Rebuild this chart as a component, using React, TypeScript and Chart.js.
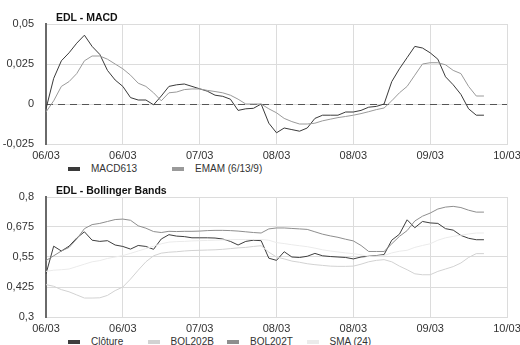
import React, { useEffect, useRef } from 'react';
import { Chart, registerables } from 'chart.js';

Chart.register(...registerables);

// ---------- data ----------
const xTickLabels = ['06/03', '06/03', '07/03', '08/03', '08/03', '09/03', '10/03'];
const STEPS_PER_TICK = 10;

const macdTicks = [-0.025, 0, 0.025, 0.05];
const bbTicks = [0.3, 0.425, 0.55, 0.675, 0.8];

const macd613 = [
  -0.003, 0.016, 0.027, 0.032, 0.038, 0.043, 0.036, 0.031, 0.021, 0.015,
  0.011, 0.004, 0.0025, 0.0025, -0.0005, 0.005, 0.011, 0.012, 0.0125, 0.011,
  0.0095, 0.008, 0.0055, 0.0048, 0.003, -0.004, -0.003, -0.0027, 0, -0.012,
  -0.018, -0.015, -0.016, -0.017, -0.015, -0.009, -0.007, -0.007, -0.007, -0.005,
  -0.005, -0.004, -0.002, -0.0015, 0, 0.014, 0.022, 0.029, 0.036, 0.035,
  0.032, 0.028, 0.017, 0.012, 0.006, -0.003, -0.007, -0.007,
];

const emam = [
  -0.005, 0.002, 0.011, 0.014, 0.019, 0.027, 0.03, 0.03, 0.028, 0.025,
  0.022, 0.018, 0.013, 0.011, 0.007, 0.002, 0.007, 0.0075, 0.009, 0.0094,
  0.0094, 0.0085, 0.0078, 0.007, 0.0055, 0.003, 0, 0, 0, -0.003,
  -0.0055, -0.009, -0.011, -0.0125, -0.0125, -0.012, -0.0105, -0.0095, -0.0085, -0.0078,
  -0.007, -0.006, -0.0048, -0.0035, -0.0025, 0.002, 0.007, 0.011, 0.018, 0.025,
  0.0258, 0.0258, 0.0245, 0.021, 0.019, 0.011, 0.005, 0.005,
];

const cloture = [
  0.48, 0.595, 0.575, 0.595, 0.629, 0.655, 0.62, 0.615, 0.618, 0.6,
  0.594, 0.583, 0.598, 0.594, 0.582, 0.625, 0.643, 0.637, 0.635, 0.63,
  0.63, 0.63, 0.629, 0.625, 0.615, 0.6, 0.615, 0.62, 0.618, 0.545,
  0.536, 0.572, 0.55, 0.548, 0.553, 0.565, 0.555, 0.552, 0.55, 0.548,
  0.542, 0.55, 0.553, 0.556, 0.56, 0.62, 0.645, 0.705, 0.672, 0.698,
  0.692, 0.69, 0.668, 0.662, 0.64, 0.628, 0.622, 0.622,
];

const bol202B = [
  0.435, 0.428, 0.414, 0.405, 0.392, 0.379, 0.379, 0.38, 0.39, 0.41,
  0.425, 0.458, 0.495, 0.53, 0.555, 0.566, 0.57, 0.572, 0.575, 0.577,
  0.578, 0.579, 0.58, 0.582, 0.585, 0.588, 0.59, 0.594, 0.597, 0.57,
  0.55, 0.542, 0.533, 0.528, 0.522, 0.518, 0.515, 0.512, 0.511, 0.511,
  0.512, 0.52, 0.53, 0.536, 0.539, 0.53, 0.512, 0.497, 0.48, 0.476,
  0.476, 0.49, 0.5, 0.51, 0.525, 0.548, 0.564, 0.564,
];

const bol202T = [
  0.535, 0.555, 0.575, 0.59, 0.625, 0.668, 0.685, 0.69, 0.698, 0.706,
  0.708, 0.703, 0.68, 0.67, 0.656, 0.652, 0.657, 0.656, 0.657, 0.657,
  0.658, 0.66, 0.661, 0.661, 0.66, 0.658, 0.655, 0.652, 0.65, 0.667,
  0.671, 0.671, 0.669, 0.667, 0.665, 0.655, 0.645, 0.638, 0.632, 0.624,
  0.617, 0.598, 0.573, 0.573, 0.573, 0.605, 0.636, 0.66, 0.7, 0.72,
  0.733, 0.75, 0.758, 0.761, 0.756, 0.745, 0.737, 0.737,
];

const sma24 = [
  0.49, 0.495, 0.497, 0.5, 0.51, 0.52, 0.53, 0.535, 0.544, 0.55,
  0.556, 0.565, 0.575, 0.585, 0.595, 0.605, 0.612, 0.614, 0.615, 0.617,
  0.618, 0.619, 0.62, 0.621, 0.622, 0.623, 0.623, 0.623, 0.623, 0.62,
  0.61, 0.606, 0.601, 0.597, 0.593, 0.587, 0.58, 0.575, 0.571, 0.567,
  0.564, 0.559, 0.552, 0.554, 0.556, 0.567, 0.574, 0.578, 0.59, 0.598,
  0.605, 0.62, 0.63, 0.636, 0.641, 0.646, 0.65, 0.65,
];

const categories = Array.from(
  { length: (xTickLabels.length - 1) * STEPS_PER_TICK + 1 },
  (_, i) => (i % STEPS_PER_TICK === 0 ? xTickLabels[i / STEPS_PER_TICK] : '')
);

type Series = { label: string; data: number[]; color: string; width?: number };

const macdSeries: Series[] = [
  { label: 'MACD613', data: macd613, color: '#3a3a3a' },
  { label: 'EMAM (6/13/9)', data: emam, color: '#9a9a9a' },
];

const bbSeries: Series[] = [
  { label: 'Clôture', data: cloture, color: '#3e3e3e' },
  { label: 'BOL202B', data: bol202B, color: '#d2d2d2' },
  { label: 'BOL202T', data: bol202T, color: '#8e8e8e' },
  { label: 'SMA (24)', data: sma24, color: '#ebebeb' },
];

// ---------- chart ----------
const TICK_FONT = { family: '"Liberation Sans", Arial, sans-serif', size: 11 };
const GRID = '#dcdcdc';

const zeroLinePlugin = {
  id: 'zeroLine',
  beforeDatasetsDraw(chart: any) {
    const { ctx, chartArea, scales } = chart;
    const y = Math.round(scales.y.getPixelForValue(0)) + 0.5;
    ctx.save();
    ctx.strokeStyle = '#555';
    ctx.lineWidth = 1;
    ctx.setLineDash([7, 5]);
    ctx.beginPath();
    ctx.moveTo(chartArea.left, y);
    ctx.lineTo(chartArea.right, y);
    ctx.stroke();
    ctx.restore();
  },
};

function LineCanvas({ series, yTicks, zeroLine }: { series: Series[]; yTicks: number[]; zeroLine?: boolean }) {
  const ref = useRef<HTMLCanvasElement>(null);
  useEffect(() => {
    const chart = new Chart(ref.current as HTMLCanvasElement, {
      type: 'line',
      data: {
        labels: categories,
        datasets: series
          .slice()
          .reverse()
          .map((s) => ({
            label: s.label,
            data: s.data,
            borderColor: s.color,
            backgroundColor: s.color,
            borderWidth: s.width ?? 1,
            pointRadius: 0,
            fill: false,
            tension: 0,
          })),
      },
      options: {
        animation: false,
        responsive: false,
        maintainAspectRatio: false,
        events: [],
        layout: { padding: { top: 24, right: 13, left: 0, bottom: 0 } },
        plugins: {
          legend: { display: false },
          title: { display: false },
          tooltip: { enabled: false },
        },
        scales: {
          x: {
            type: 'category',
            offset: false,
            grid: {
              color: (c: any) => (c.tick && c.tick.label ? GRID : 'rgba(0,0,0,0)'),
              drawTicks: false,
              lineWidth: 1,
            },
            border: { display: true, color: GRID, width: 1 },
            ticks: {
              autoSkip: false,
              maxRotation: 0,
              minRotation: 0,
              padding: 5,
              font: TICK_FONT,
              color: '#333',
            },
            afterFit: (s: any) => {
              s.height = 18;
              s.paddingLeft = 0;
              s.paddingRight = 0;
            },
          },
          y: {
            type: 'linear',
            min: yTicks[0],
            max: yTicks[yTicks.length - 1],
            afterBuildTicks: (s: any) => {
              s.ticks = yTicks.map((v) => ({ value: v }));
            },
            grid: { color: GRID, drawTicks: false, lineWidth: 1 },
            border: { display: true, color: '#6a6a6a', width: 2 },
            ticks: {
              padding: 12,
              font: TICK_FONT,
              color: '#333',
              callback: (v: any) => String(v).replace('.', ','),
            },
            afterFit: (s: any) => {
              s.width = 46;
              s.paddingTop = 0;
              s.paddingBottom = 0;
            },
          },
        },
      } as any,
      plugins: zeroLine ? [zeroLinePlugin] : [],
    });
    return () => chart.destroy();
  }, []);
  return (
    <canvas
      ref={ref}
      width={520}
      height={162}
      style={{ position: 'absolute', left: 0, top: 0, width: 520, height: 162 }}
    />
  );
}

function Panel({
  top,
  title,
  series,
  yTicks,
  legendStep,
  zeroLine,
}: {
  top: number;
  title: string;
  series: Series[];
  yTicks: number[];
  legendStep: number;
  zeroLine?: boolean;
}) {
  return (
    <div style={{ position: 'absolute', left: 0, top, width: 520, height: 172 }}>
      <LineCanvas series={series} yTicks={yTicks} zeroLine={zeroLine} />
      <div
        style={{
          position: 'absolute',
          left: 56,
          top: 11,
          font: 'bold 10.5px "Liberation Sans", Arial, sans-serif',
          lineHeight: '13px',
          color: '#111',
          whiteSpace: 'nowrap',
        }}
      >
        {title}
      </div>
      {series.map((s, i) => {
        const x = 68 + i * legendStep;
        return (
          <React.Fragment key={s.label}>
            <div
              style={{
                position: 'absolute',
                left: x,
                top: 166.5,
                width: 12,
                height: 4,
                background: s.color,
              }}
            />
            <div
              style={{
                position: 'absolute',
                left: x + 23,
                top: 162.5,
                font: '10px "Liberation Sans", Arial, sans-serif',
                lineHeight: '12px',
                color: '#333',
                whiteSpace: 'nowrap',
              }}
            >
              {s.label}
            </div>
          </React.Fragment>
        );
      })}
    </div>
  );
}

export default function App() {
  return (
    <div
      style={{
        position: 'absolute',
        left: 0,
        top: 0,
        width: 520,
        height: 345,
        background: '#fff',
        overflow: 'hidden',
      }}
    >
      <Panel top={0} title="EDL - MACD" series={macdSeries} yTicks={macdTicks} legendStep={104} zeroLine />
      <Panel top={173} title="EDL - Bollinger Bands" series={bbSeries} yTicks={bbTicks} legendStep={79.5} />
    </div>
  );
}
